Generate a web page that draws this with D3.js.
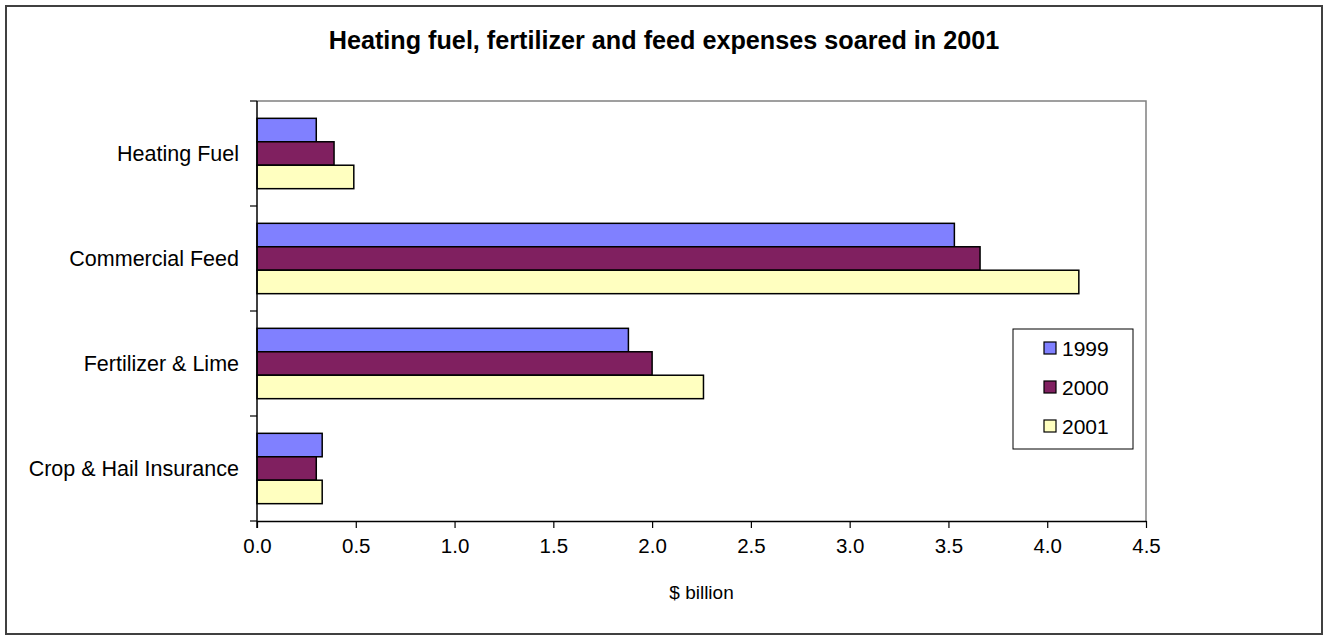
<!DOCTYPE html>
<html>
<head>
<meta charset="utf-8">
<script src="https://cdn.jsdelivr.net/npm/d3@7"></script>
<style>
  body { margin: 0; background: #fff; }
  text { font-family: "Liberation Sans", Arial, sans-serif; fill: #000; }
</style>
</head>
<body>
<svg width="1328" height="640"></svg>
<script>
// data
const categories = ['Heating Fuel', 'Commercial Feed', 'Fertilizer & Lime', 'Crop & Hail Insurance']
const years = ['1999', '2000', '2001']
const values1999 = [0.30, 3.53, 1.88, 0.33]
const values2000 = [0.39, 3.66, 2.00, 0.30]
const values2001 = [0.49, 4.16, 2.26, 0.33]
const xTicks = [0, 0.5, 1.0, 1.5, 2.0, 2.5, 3.0, 3.5, 4.0, 4.5]
const colors = ['#8080ff', '#802060', '#ffffc0']

const series = [values1999, values2000, values2001]

const svg = d3.select('svg')

// outer frame
svg.append('rect')
  .attr('x', 6).attr('y', 6)
  .attr('width', 1316).attr('height', 628)
  .attr('fill', 'white')
  .attr('stroke', '#404040')
  .attr('stroke-width', 2)

// title
svg.append('text')
  .attr('x', 664).attr('y', 49)
  .attr('text-anchor', 'middle')
  .style('font-size', '25.2px')
  .style('font-weight', 'bold')
  .text('Heating fuel, fertilizer and feed expenses soared in 2001')

// scales
const plot = { left: 257, right: 1146, top: 101, bottom: 521 }

const x = d3.scaleLinear()
  .domain([0, 4.5])
  .range([plot.left, plot.right])

const y = d3.scaleBand()
  .domain(categories)
  .range([plot.top, plot.bottom])
  .paddingInner(0.33)
  .paddingOuter(0.165)

const yInner = d3.scaleBand()
  .domain(years)
  .range([0, y.bandwidth()])

// plot area border (top, right)
svg.append('path')
  .attr('d', `M${plot.left},${plot.top}H${plot.right}V${plot.bottom}`)
  .attr('fill', 'none')
  .attr('stroke', '#808080')
  .attr('stroke-width', 1.5)

// bars
const groups = svg.append('g')
  .selectAll('g')
  .data(categories)
  .enter()
  .append('g')
  .attr('transform', d => `translate(0,${y(d)})`)

groups.selectAll('rect')
  .data((d, i) => years.map((yr, j) => ({ year: yr, value: series[j][i], color: colors[j] })))
  .enter()
  .append('rect')
  .attr('x', x(0))
  .attr('y', d => yInner(d.year))
  .attr('width', d => x(d.value) - x(0))
  .attr('height', yInner.bandwidth())
  .attr('fill', d => d.color)
  .attr('stroke', '#000')
  .attr('stroke-width', 1.5)

// x axis
const xAxis = svg.append('g')
  .attr('transform', `translate(0,${plot.bottom})`)
  .call(d3.axisBottom(x)
    .tickValues(xTicks)
    .tickFormat(d3.format('.1f'))
    .tickSize(7)
    .tickSizeOuter(0))

xAxis.select('.domain').attr('stroke', '#000').attr('stroke-width', 1.5)
xAxis.selectAll('.tick line').attr('stroke', '#000').attr('stroke-width', 1.2)
xAxis.selectAll('.tick text')
  .attr('y', 17)
  .attr('dy', '0.71em')
  .style('font-size', '20.5px')
  .style('font-family', '"Liberation Sans", Arial, sans-serif')

// y axis (ticks between categories, labels centred)
const step = y.step()
const boundaries = categories.map(c => y(c) - step * y.paddingInner() / 2)
boundaries.push(plot.bottom)

const yAxis = svg.append('g')
yAxis.append('line')
  .attr('x1', plot.left).attr('x2', plot.left)
  .attr('y1', plot.top).attr('y2', plot.bottom + 7)
  .attr('stroke', '#000').attr('stroke-width', 1.5)

yAxis.selectAll('line.tick')
  .data(boundaries)
  .enter()
  .append('line')
  .classed('tick', true)
  .attr('x1', plot.left - 7).attr('x2', plot.left)
  .attr('y1', d => d).attr('y2', d => d)
  .attr('stroke', '#000').attr('stroke-width', 1.2)

yAxis.selectAll('text')
  .data(categories)
  .enter()
  .append('text')
  .attr('x', 239)
  .attr('y', d => y(d) + y.bandwidth() / 2)
  .attr('dy', '0.36em')
  .attr('text-anchor', 'end')
  .style('font-size', '21.5px')
  .text(d => d)

// x axis title
svg.append('text')
  .attr('x', (plot.left + plot.right) / 2)
  .attr('y', 599)
  .attr('text-anchor', 'middle')
  .style('font-size', '19px')
  .text('$ billion')

// legend
const legend = svg.append('g').attr('transform', 'translate(1013,329)')
legend.append('rect')
  .attr('width', 120).attr('height', 120)
  .attr('fill', 'white')
  .attr('stroke', '#000').attr('stroke-width', 1)

const legendY = d3.scalePoint()
  .domain(years)
  .range([19, 97])

const items = legend.selectAll('g.item')
  .data(years)
  .enter()
  .append('g')
  .classed('item', true)
  .attr('transform', d => `translate(0,${legendY(d)})`)

items.append('rect')
  .attr('x', 31).attr('y', -6)
  .attr('width', 12).attr('height', 12)
  .attr('fill', (d, i) => colors[i])
  .attr('stroke', '#000').attr('stroke-width', 1.2)

items.append('text')
  .attr('x', 49)
  .attr('dy', '0.36em')
  .style('font-size', '21px')
  .text(d => d)
</script>
</body>
</html>
